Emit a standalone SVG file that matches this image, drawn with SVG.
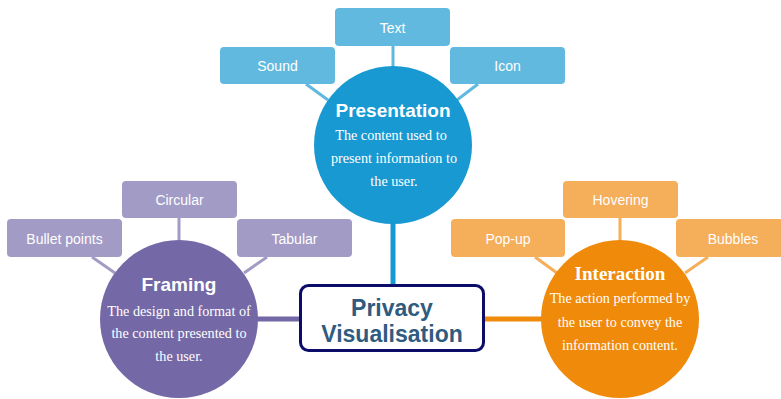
<svg xmlns="http://www.w3.org/2000/svg" width="781" height="399" viewBox="0 0 781 399">
<style>
.lbl{font-family:"Liberation Sans",Arial,sans-serif;font-size:14px;fill:#fff;text-anchor:middle}
.ttl{font-family:"Liberation Sans",Arial,sans-serif;font-size:19px;font-weight:bold;fill:#fff;text-anchor:middle}
.ttls{font-family:"Liberation Serif","Times New Roman",serif;font-size:19px;font-weight:bold;fill:#fff;text-anchor:middle}
.desc{font-family:"Liberation Serif","Times New Roman",serif;font-size:14.2px;fill:#fff;text-anchor:middle}
.main{font-family:"Liberation Sans",Arial,sans-serif;font-size:23px;font-weight:bold;fill:#2f5b80;text-anchor:middle}
.bl{fill:#62b9e0}.pl{fill:#a29bc6}.ol{fill:#f5ae5a}
</style>
<rect width="781" height="399" fill="#fff"/>
<g id="connectors" fill="none">
  <g stroke="#62b9e0" stroke-width="3">
    <line x1="393" y1="46" x2="393" y2="68"/>
    <line x1="306" y1="84" x2="328" y2="100"/>
    <line x1="478" y1="84" x2="457" y2="100"/>
  </g>
  <g stroke="#a29bc6" stroke-width="3">
    <line x1="179" y1="218" x2="179" y2="242"/>
    <line x1="92" y1="257" x2="115" y2="273"/>
    <line x1="267" y1="257" x2="244" y2="273"/>
  </g>
  <g stroke="#f5ae5a" stroke-width="3">
    <line x1="620" y1="218" x2="620" y2="242"/>
    <line x1="535" y1="257" x2="557" y2="273"/>
    <line x1="708" y1="257" x2="685" y2="273"/>
  </g>
  <line x1="393" y1="222" x2="393" y2="285" stroke="#1899d2" stroke-width="5"/>
  <line x1="256" y1="319" x2="300" y2="319" stroke="#7469a6" stroke-width="5"/>
  <line x1="484" y1="319" x2="544" y2="319" stroke="#f08a0a" stroke-width="5"/>
</g>
<g id="text-box"><rect class="bl" x="335" y="8" width="115" height="38" rx="4"/><text class="lbl" x="392.5" y="33">Text</text></g>
<g id="sound"><rect class="bl" x="220" y="47" width="115" height="37" rx="4"/><text class="lbl" x="277.5" y="71">Sound</text></g>
<g id="icon"><rect class="bl" x="450" y="47" width="115" height="37" rx="4"/><text class="lbl" x="507.5" y="71">Icon</text></g>
<g id="presentation">
  <circle cx="393" cy="145" r="79" fill="#1899d2"/>
  <text class="ttl" x="393" y="117">Presentation</text>
  <text class="desc" x="391" y="140">The content used to</text>
  <text class="desc" x="394" y="163">present information to</text>
  <text class="desc" x="394" y="186">the user.</text>
</g>
<g id="circular"><rect class="pl" x="122" y="181" width="115" height="37" rx="4"/><text class="lbl" x="179.5" y="205">Circular</text></g>
<g id="bullet-points"><rect class="pl" x="7" y="219" width="115" height="38" rx="4"/><text class="lbl" x="64.5" y="244">Bullet points</text></g>
<g id="tabular"><rect class="pl" x="237" y="219" width="115" height="38" rx="4"/><text class="lbl" x="294.5" y="244">Tabular</text></g>
<g id="framing">
  <circle cx="179" cy="319" r="79" fill="#7469a6"/>
  <text class="ttl" x="179" y="291">Framing</text>
  <text class="desc" x="179" y="316">The design and format of</text>
  <text class="desc" x="179" y="338">the content presented to</text>
  <text class="desc" x="179" y="361">the user.</text>
</g>
<g id="hovering"><rect class="ol" x="563" y="181" width="115" height="37" rx="4"/><text class="lbl" x="620.5" y="205">Hovering</text></g>
<g id="pop-up"><rect class="ol" x="451" y="219" width="114" height="38" rx="4"/><text class="lbl" x="508" y="244">Pop-up</text></g>
<g id="bubbles"><rect class="ol" x="676" y="219" width="115" height="38" rx="4"/><text class="lbl" x="733" y="244">Bubbles</text></g>
<g id="interaction">
  <circle cx="620" cy="319" r="79" fill="#f08a0a"/>
  <text class="ttls" x="620" y="280">Interaction</text>
  <text class="desc" x="620" y="303">The action performed by</text>
  <text class="desc" x="620" y="327">the user to convey the</text>
  <text class="desc" x="620" y="350">information content.</text>
</g>
<g id="privacy-visualisation">
  <rect x="300.5" y="285.5" width="183" height="65" rx="8" fill="#fff" stroke="#0c0c6a" stroke-width="3"/>
  <text class="main" x="392" y="316">Privacy</text>
  <text class="main" x="392" y="342">Visualisation</text>
</g>
</svg>
